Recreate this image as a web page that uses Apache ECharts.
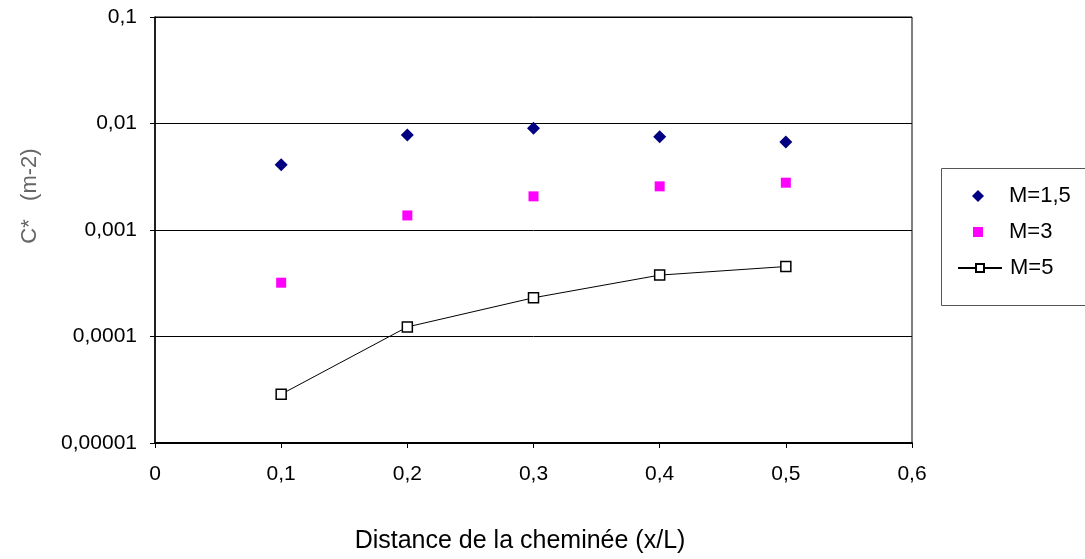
<!DOCTYPE html>
<html>
<head>
<meta charset="utf-8">
<script src="https://cdn.jsdelivr.net/npm/echarts@6/dist/echarts.min.js"></script>
<style>
  html, body { margin: 0; padding: 0; background: #fff; }
  #chart { width: 1085px; height: 559px; }
</style>
</head>
<body>
<div id="chart"></div>
<script>
// Distance from the chimney (x/L)
const xValues = [0.1, 0.2, 0.3, 0.4, 0.5];
// C* (m-2) for each Mach number
const seriesM15 = [0.0041, 0.0078, 0.0090, 0.0075, 0.0067];
const seriesM3 = [0.00032, 0.00137, 0.00207, 0.00257, 0.00278];
const seriesM5 = [0.0000287, 0.000123, 0.000231, 0.000377, 0.000454];
const seriesNames = ['M=1,5', 'M=3', 'M=5'];
const yTickLabels = ['0,00001', '0,0001', '0,001', '0,01', '0,1'];
const xTickLabels = ['0', '0,1', '0,2', '0,3', '0,4', '0,5', '0,6'];

const pairs = (ys) => xValues.map((x, i) => [x, ys[i]]);
const font = '"Liberation Sans", Arial, sans-serif';

function legendFor(name, left, top, w, h, padLeft) {
  return {
    orient: 'vertical', left: left, top: top, padding: 0,
    itemWidth: w, itemHeight: h,
    textStyle: { color: '#000', fontSize: 22, fontFamily: font, padding: [0, 0, 0, padLeft] },
    data: [name]
  };
}

const chart = echarts.init(document.getElementById('chart'), null, { renderer: 'canvas' });
chart.setOption({
  animation: false,
  backgroundColor: '#fff',
  grid: {
    left: 155, right: 173, top: 17, bottom: 116,
    show: true, borderColor: '#000', borderWidth: 1
  },
  xAxis: {
    type: 'value', min: 0, max: 0.6, interval: 0.1,
    axisLine: { lineStyle: { color: '#000', width: 2 } },
    axisTick: { show: true, inside: false, length: 5, lineStyle: { color: '#000' } },
    axisLabel: {
      color: '#000', fontSize: 21, fontFamily: font, margin: 21,
      formatter: (v) => xTickLabels[Math.round(v * 10)]
    },
    splitLine: { show: false }
  },
  yAxis: {
    type: 'log', logBase: 10, min: 0.00001, max: 0.1,
    axisLine: { lineStyle: { color: '#000', width: 1.5 } },
    axisTick: { show: true, inside: false, length: 5, lineStyle: { color: '#000' } },
    axisLabel: {
      color: '#000', fontSize: 21, fontFamily: font, margin: 18,
      formatter: (v) => yTickLabels[Math.round(Math.log10(v)) + 5]
    },
    splitLine: { show: true, lineStyle: { color: '#000', width: 1 } },
    minorTick: { show: false }
  },
  legend: [
    legendFor(seriesNames[0], 972, 185, 12, 12, 20),
    legendFor(seriesNames[1], 973, 221, 10, 10, 21),
    legendFor(seriesNames[2], 957, 257, 44, 10, 3)
  ],
  graphic: [
    {
      type: 'rect', left: 941, top: 168, z: -1,
      shape: { width: 160, height: 137 },
      style: { fill: '#fff', stroke: '#555', lineWidth: 1 }
    },
    {
      type: 'text', x: 30, y: 196, rotation: Math.PI / 2,
      style: {
        text: 'C*   (m-2)', fill: '#666', font: '22px ' + font,
        textAlign: 'center', textVerticalAlign: 'middle'
      }
    },
    {
      type: 'text', x: 520, y: 541,
      style: {
        text: 'Distance de la cheminée (x/L)', fill: '#000', font: '25px ' + font,
        textAlign: 'center', textVerticalAlign: 'middle'
      }
    }
  ],
  series: [
    {
      name: seriesNames[0], type: 'scatter', data: pairs(seriesM15),
      symbol: 'diamond', symbolSize: 13,
      itemStyle: { color: '#000080', opacity: 1 }
    },
    {
      name: seriesNames[1], type: 'scatter', data: pairs(seriesM3),
      symbol: 'rect', symbolSize: 10,
      itemStyle: { color: '#ff00ff', opacity: 1 }
    },
    {
      name: seriesNames[2], type: 'line', data: pairs(seriesM5),
      symbol: 'rect', symbolSize: 10, showSymbol: true,
      lineStyle: { color: '#000', width: 1 },
      itemStyle: { color: '#fff', borderColor: '#000', borderWidth: 1.5 }
    }
  ]
});
</script>
</body>
</html>
